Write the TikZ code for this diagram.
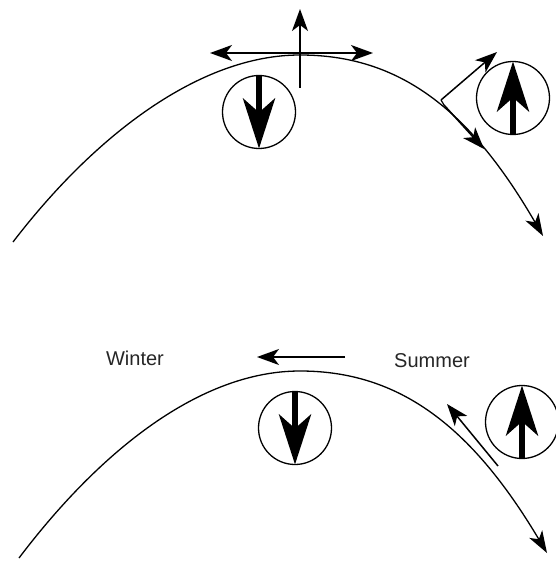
\documentclass[tikz,border=0pt]{standalone}
\usepackage{fontspec}
\setmainfont{Liberation Sans}
\usetikzlibrary{arrows.meta}
\begin{document}
\begin{tikzpicture}[x=1pt,y=-1pt,
  ridge/.style={line width=1.3pt,-{Stealth[length=22pt,width=15pt,inset=6pt]}},
  flow/.style={line width=1.5pt,-{Stealth[length=22pt,width=16pt,inset=6pt]}},
  twoway/.style={line width=1.5pt,{Stealth[length=22pt,width=16pt,inset=6pt]}-{Stealth[length=22pt,width=16pt,inset=6pt]}},
  vortex/.style={circle,draw,line width=1.3pt,minimum size=73pt,inner sep=0pt,outer sep=0pt},
  spin/.style={line width=6pt,-{Stealth[length=50pt,width=32pt,inset=14pt]}},
  season/.style={font=\fontsize{20}{22}\selectfont,text=black!85,inner sep=0pt}
]
\useasboundingbox (0,0) rectangle (555,561);

% ---------- top panel ----------
\coordinate (tl) at (13,242);
\coordinate (tp) at (300,55);
\coordinate (tr) at (543,236);
\draw[ridge] (tl) .. controls (95,135) and (200,55) .. (tp)
             .. controls (400,55) and (470,110) .. (tr);

\coordinate (hl) at (210,53);
\coordinate (hr) at (373,53);
\coordinate (vb) at (300,88);
\coordinate (vt) at (300,9);
\draw[twoway] (hl) -- (hr);
\draw[flow] (vb) -- (vt);

\node[vortex] (v1) at (259,112) {};
\draw[spin] (v1.north) -- (v1.south);

\node[vortex] (v2) at (513,98) {};
\draw[spin] (v2.south) -- (v2.north);

\coordinate (j) at (441,100);
\coordinate (jo) at (444,105);
\coordinate (ur) at (497,52);
\coordinate (dn) at (484,149);
\draw[flow] (j) -- (ur);
\draw[line width=1.2pt] (j) -- (jo);
\draw[flow] (jo) -- (dn);

% ---------- bottom panel ----------
\coordinate (bl) at (19,558);
\coordinate (bp) at (300,371);
\coordinate (br) at (547,553);
\draw[ridge] (bl) .. controls (100,451) and (200,371) .. (bp)
             .. controls (400,371) and (472,427) .. (br);

\node[season] (winter) at (135,358) {Winter};
\node[season] (summer) at (432,361) {Summer};

\coordinate (wa) at (345,357);
\coordinate (wb) at (257,357);
\draw[flow] (wa) -- (wb);

\node[vortex] (v3) at (295,428) {};
\draw[spin] (v3.north) -- (v3.south);

\node[vortex] (v4) at (522,422) {};
\draw[spin] (v4.south) -- (v4.north);

\coordinate (sa) at (498,466);
\coordinate (sb) at (447,404);
\draw[flow] (sa) -- (sb);
\end{tikzpicture}
\end{document}
